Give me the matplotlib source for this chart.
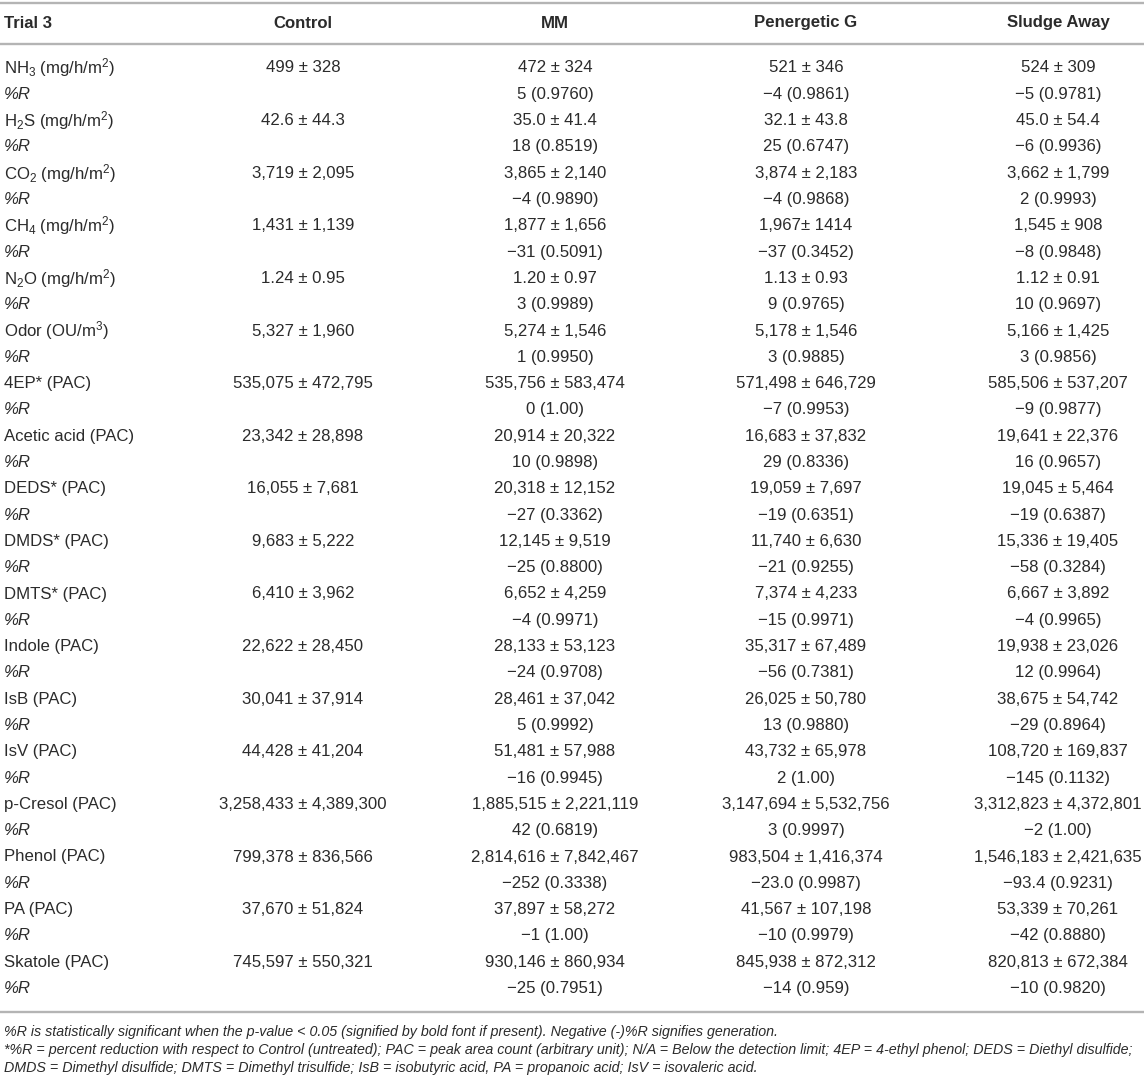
import matplotlib
matplotlib.use("Agg")
import matplotlib.pyplot as plt

plt.rcParams['font.family'] = ['Liberation Sans', 'DejaVu Sans']
plt.rcParams['mathtext.fontset'] = 'custom'
plt.rcParams['mathtext.rm'] = 'Liberation Sans'
plt.rcParams['mathtext.it'] = 'Liberation Sans:italic'
plt.rcParams['mathtext.default'] = 'regular'

# ---------------------------------------------------------------- data
header = ["Trial 3", "Control", "MM", "Penergetic G", "Sludge Away"]

compounds = ["NH$_3$ (mg/h/m$^2$)", "H$_2$S (mg/h/m$^2$)", "CO$_2$ (mg/h/m$^2$)",
             "CH$_4$ (mg/h/m$^2$)", "N$_2$O (mg/h/m$^2$)", "Odor (OU/m$^3$)",
             "4EP* (PAC)", "Acetic acid (PAC)", "DEDS* (PAC)", "DMDS* (PAC)",
             "DMTS* (PAC)", "Indole (PAC)", "IsB (PAC)", "IsV (PAC)",
             "p-Cresol (PAC)", "Phenol (PAC)", "PA (PAC)", "Skatole (PAC)"]

control = ["499 ± 328", "42.6 ± 44.3", "3,719 ± 2,095", "1,431 ± 1,139", "1.24 ± 0.95",
           "5,327 ± 1,960", "535,075 ± 472,795", "23,342 ± 28,898", "16,055 ± 7,681",
           "9,683 ± 5,222", "6,410 ± 3,962", "22,622 ± 28,450", "30,041 ± 37,914",
           "44,428 ± 41,204", "3,258,433 ± 4,389,300", "799,378 ± 836,566",
           "37,670 ± 51,824", "745,597 ± 550,321"]

mm = ["472 ± 324", "35.0 ± 41.4", "3,865 ± 2,140", "1,877 ± 1,656", "1.20 ± 0.97",
      "5,274 ± 1,546", "535,756 ± 583,474", "20,914 ± 20,322", "20,318 ± 12,152",
      "12,145 ± 9,519", "6,652 ± 4,259", "28,133 ± 53,123", "28,461 ± 37,042",
      "51,481 ± 57,988", "1,885,515 ± 2,221,119", "2,814,616 ± 7,842,467",
      "37,897 ± 58,272", "930,146 ± 860,934"]
mm_r = ["5 (0.9760)", "18 (0.8519)", "−4 (0.9890)", "−31 (0.5091)", "3 (0.9989)",
        "1 (0.9950)", "0 (1.00)", "10 (0.9898)", "−27 (0.3362)", "−25 (0.8800)",
        "−4 (0.9971)", "−24 (0.9708)", "5 (0.9992)", "−16 (0.9945)", "42 (0.6819)",
        "−252 (0.3338)", "−1 (1.00)", "−25 (0.7951)"]

pen_g = ["521 ± 346", "32.1 ± 43.8", "3,874 ± 2,183", "1,967± 1414", "1.13 ± 0.93",
         "5,178 ± 1,546", "571,498 ± 646,729", "16,683 ± 37,832", "19,059 ± 7,697",
         "11,740 ± 6,630", "7,374 ± 4,233", "35,317 ± 67,489", "26,025 ± 50,780",
         "43,732 ± 65,978", "3,147,694 ± 5,532,756", "983,504 ± 1,416,374",
         "41,567 ± 107,198", "845,938 ± 872,312"]
pen_g_r = ["−4 (0.9861)", "25 (0.6747)", "−4 (0.9868)", "−37 (0.3452)", "9 (0.9765)",
           "3 (0.9885)", "−7 (0.9953)", "29 (0.8336)", "−19 (0.6351)", "−21 (0.9255)",
           "−15 (0.9971)", "−56 (0.7381)", "13 (0.9880)", "2 (1.00)", "3 (0.9997)",
           "−23.0 (0.9987)", "−10 (0.9979)", "−14 (0.959)"]

sludge = ["524 ± 309", "45.0 ± 54.4", "3,662 ± 1,799", "1,545 ± 908", "1.12 ± 0.91",
          "5,166 ± 1,425", "585,506 ± 537,207", "19,641 ± 22,376", "19,045 ± 5,464",
          "15,336 ± 19,405", "6,667 ± 3,892", "19,938 ± 23,026", "38,675 ± 54,742",
          "108,720 ± 169,837", "3,312,823 ± 4,372,801", "1,546,183 ± 2,421,635",
          "53,339 ± 70,261", "820,813 ± 672,384"]
sludge_r = ["−5 (0.9781)", "−6 (0.9936)", "2 (0.9993)", "−8 (0.9848)", "10 (0.9697)",
            "3 (0.9856)", "−9 (0.9877)", "16 (0.9657)", "−19 (0.6387)", "−58 (0.3284)",
            "−4 (0.9965)", "12 (0.9964)", "−29 (0.8964)", "−145 (0.1132)", "−2 (1.00)",
            "−93.4 (0.9231)", "−42 (0.8880)", "−10 (0.9820)"]

footnotes = [
    "%R is statistically significant when the p-value < 0.05 (signified by bold font if present). "
    "Negative (-)%R signifies generation.",
    "*%R = percent reduction with respect to Control (untreated); PAC = peak area count (arbitrary unit); "
    "N/A = Below the detection limit; 4EP = 4-ethyl phenol; DEDS = Diethyl disulfide;",
    "DMDS = Dimethyl disulfide; DMTS = Dimethyl trisulfide; IsB = isobutyric acid, "
    "PA = propanoic acid; IsV = isovaleric acid.",
]

# ---------------------------------------------------------------- layout
W, H = 1144, 1080
fig = plt.figure(figsize=(W / 100, H / 100), dpi=100)
ax = fig.add_axes([0, 0, 1, 1])
ax.set_xlim(0, W)
ax.set_ylim(H, 0)
ax.axis('off')

txt_col = '#2b2b2b'
line_col = '#b4b4b4'
fs = 12.1
col_x = [4, 303, 555, 806, 1058]
row0, row_h = 68, 26.3

# rules
for y in (3, 44, 1012):
    ax.plot([0, W], [y, y], color=line_col, lw=1.7, solid_capstyle='butt')

# header
for i, h in enumerate(header):
    ax.text(col_x[i], 23, h, ha='left' if i == 0 else 'center', va='center',
            fontsize=fs, fontweight='bold', color=txt_col)

# body
for k, name in enumerate(compounds):
    y = row0 + 2 * k * row_h
    yr = y + row_h
    ax.text(col_x[0], y, name, ha='left', va='center', fontsize=fs, color=txt_col)
    ax.text(col_x[0], yr, "%R", ha='left', va='center', fontsize=fs,
            style='italic', color=txt_col)
    for c, vals in enumerate([control, mm, pen_g, sludge]):
        ax.text(col_x[c + 1], y, vals[k], ha='center', va='center',
                fontsize=fs, color=txt_col)
    for c, vals in enumerate([mm_r, pen_g_r, sludge_r]):
        ax.text(col_x[c + 2], yr, vals[k], ha='center', va='center',
                fontsize=fs, color=txt_col)

# footnotes
for i, f in enumerate(footnotes):
    ax.text(col_x[0], 1032 + i * 18, f, ha='left', va='center', fontsize=10.3,
            style='italic', color=txt_col)

fig.savefig("out.png", dpi=100)
